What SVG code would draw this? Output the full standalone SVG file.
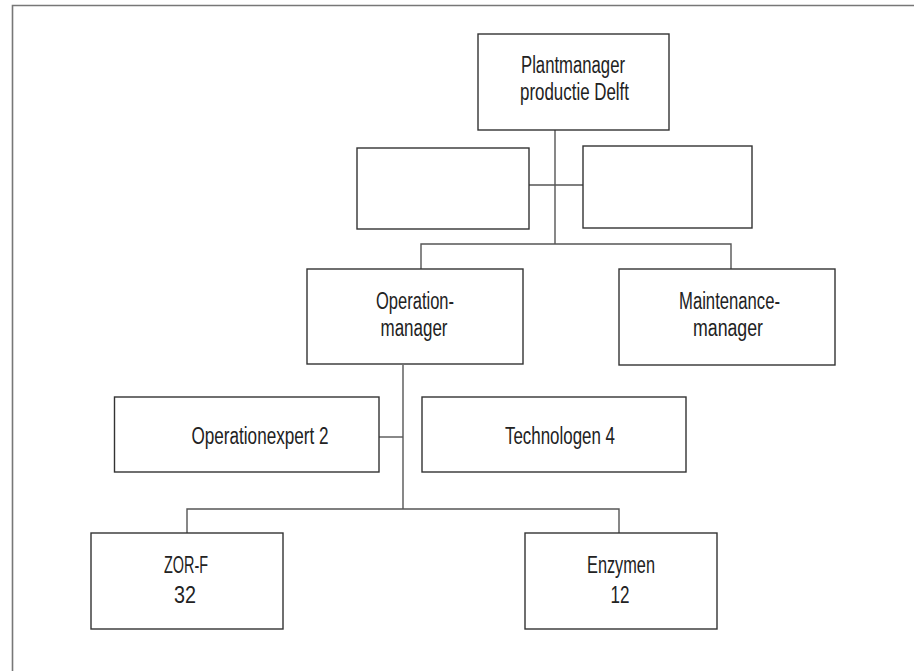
<svg xmlns="http://www.w3.org/2000/svg" width="914" height="671" viewBox="0 0 914 671">
<style>
.box{fill:#fff;stroke:#333;stroke-width:1.4}
.con{fill:none;stroke:#555;stroke-width:1.4}
.frame{fill:none;stroke:#777;stroke-width:1.6}
text{font-family:"Liberation Sans Narrow","Liberation Sans",sans-serif;font-size:23px;fill:#222;text-anchor:middle}
</style>
<rect width="914" height="671" fill="#fff"/>
<path class="frame" d="M12.5,671 V5.5 H914"/>
<g id="connectors">
<path class="con" d="M555,130 V244"/>
<path class="con" d="M529,185 H583"/>
<path class="con" d="M421,269 V244 H731 V269"/>
<path class="con" d="M403,365 V509"/>
<path class="con" d="M379,437 H403"/>
<path class="con" d="M187,533 V509 H619 V533"/>
</g>
<g id="plantmanager">
<rect class="box" x="478" y="34" width="191" height="96"/>
<text x="573" y="73" textLength="104" lengthAdjust="spacingAndGlyphs">Plantmanager</text>
<text x="574.5" y="100" textLength="109" lengthAdjust="spacingAndGlyphs">productie Delft</text>
</g>
<g id="staf-links">
<rect class="box" x="357" y="148" width="172" height="81"/>
</g>
<g id="staf-rechts">
<rect class="box" x="583" y="146" width="169" height="82"/>
</g>
<g id="operationmanager">
<rect class="box" x="307" y="269" width="216" height="95"/>
<text x="415" y="309" textLength="78" lengthAdjust="spacingAndGlyphs">Operation-</text>
<text x="414" y="336" textLength="67" lengthAdjust="spacingAndGlyphs">manager</text>
</g>
<g id="maintenancemanager">
<rect class="box" x="619" y="269" width="216" height="96"/>
<text x="729.5" y="309" textLength="101" lengthAdjust="spacingAndGlyphs">Maintenance-</text>
<text x="728" y="336" textLength="70" lengthAdjust="spacingAndGlyphs">manager</text>
</g>
<g id="operationexpert">
<rect class="box" x="114.5" y="397" width="264.5" height="75"/>
<text x="260" y="444" textLength="137" lengthAdjust="spacingAndGlyphs">Operationexpert 2</text>
</g>
<g id="technologen">
<rect class="box" x="422" y="397" width="264" height="75"/>
<text x="560" y="444" textLength="110" lengthAdjust="spacingAndGlyphs">Technologen 4</text>
</g>
<g id="zorf">
<rect class="box" x="91" y="533" width="192" height="96"/>
<text x="186" y="573" textLength="44" lengthAdjust="spacingAndGlyphs">ZOR-F</text>
<text x="185" y="603" textLength="22" lengthAdjust="spacingAndGlyphs">32</text>
</g>
<g id="enzymen">
<rect class="box" x="525" y="533" width="192" height="96"/>
<text x="621" y="573" textLength="68" lengthAdjust="spacingAndGlyphs">Enzymen</text>
<text x="620" y="603" textLength="19" lengthAdjust="spacingAndGlyphs">12</text>
</g>
</svg>
